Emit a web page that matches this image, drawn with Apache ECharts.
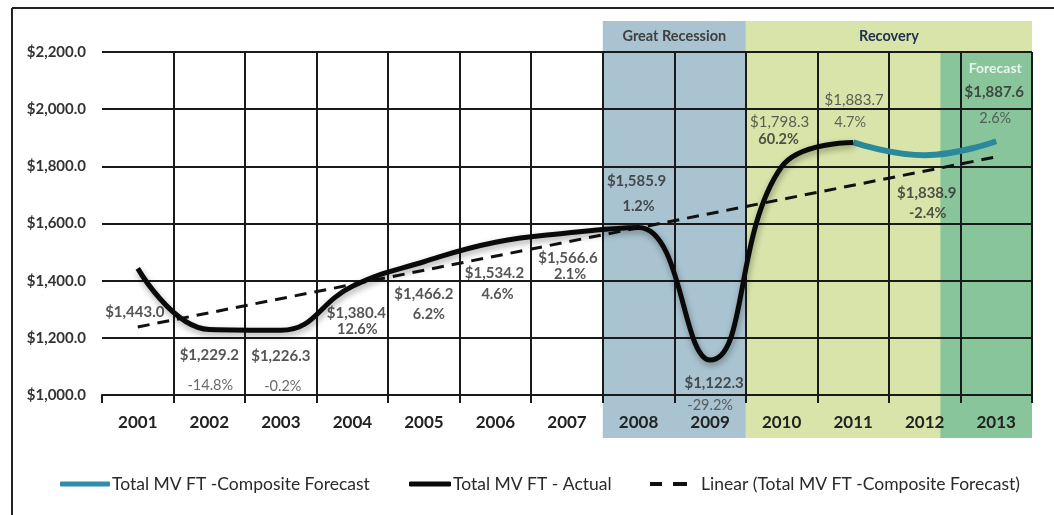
<!DOCTYPE html>
<html><head><meta charset="utf-8">
<script src="https://cdn.jsdelivr.net/npm/echarts@6/dist/echarts.min.js"></script>
<style>html,body{margin:0;padding:0;background:#fff}#c{width:1054px;height:515px}</style>
</head><body><div id="c"></div>
<script>
// ---- data ----
const years = ['2001','2002','2003','2004','2005','2006','2007','2008','2009','2010','2011','2012','2013'];
const actual = [1443.0, 1229.2, 1226.3, 1380.4, 1466.2, 1534.2, 1566.6, 1585.9, 1122.3, 1798.3, 1883.7, null, null];
const forecast = [null, null, null, null, null, null, null, null, null, null, 1883.7, 1838.9, 1887.6];
const trend = [1238, null, null, null, null, null, null, null, null, null, null, null, 1833];
const valueLabels = ['$1,443.0','$1,229.2','$1,226.3','$1,380.4','$1,466.2','$1,534.2','$1,566.6','$1,585.9','$1,122.3','$1,798.3','$1,883.7','$1,838.9','$1,887.6'];
const pctLabels = ['','-14.8%','-0.2%','12.6%','6.2%','4.6%','2.1%','1.2%','-29.2%','60.2%','4.7%','-2.4%','2.6%'];
const yTicks = [1000, 1200, 1400, 1600, 1800, 2000, 2200];
const seriesNames = ['Total MV FT -Composite Forecast', 'Total MV FT - Actual', 'Linear (Total MV FT -Composite Forecast)'];
const bands = [
  {name: 'Great Recession', from: '2008', to: '2009'},
  {name: 'Recovery', from: '2010', to: '2013'}
];
const forecastBandFrom = '2012';
const forecastTag = 'Forecast';

// ---- layout / style (not data) ----
const valueOffsets = [[-3,44],[0,26],[0,26],[4,27],[0,32],[-1,31],[1,25],[-2,-46],[4,23],[-2,-45],[1,-42],[2,38],[-2,-49]];
const pctOffsets = [[0,0],[1,56],[2,56],[5,43],[5,53],[2,52],[3,41],[0,-21],[0,45],[-3,-27],[-3,-20],[3,58],[-1,-23]];
const valueBold = [1,1,1,1,1,1,1,1,1,0,0,1,1];
const pctBold = [0,0,0,1,1,1,1,1,0,1,0,1,0];
const FONT = 'Lato, "Open Sans", sans-serif';

const pointVals = years.map((y, i) => actual[i] != null ? actual[i] : forecast[i]);

const chart = echarts.init(document.getElementById('c'), null, {renderer: 'canvas'});

const legendBase = {
  top: 470, itemGap: 4,
  textStyle: {fontFamily: FONT, fontSize: 17.5, color: '#2a2a2a', padding: [0,0,0,-3]}
};

const option = {
  backgroundColor: '#fff',
  animation: false,
  grid: {left: 102, right: 22, top: 52, bottom: 120, containLabel: false},
  legend: [
    Object.assign({}, legendBase, {data: [{name: seriesNames[0], icon: 'roundRect', itemStyle: {color: '#2f8cab'}}], left: 55, itemWidth: 50, itemHeight: 5}),
    Object.assign({}, legendBase, {data: [{name: seriesNames[1], icon: 'roundRect', itemStyle: {color: '#0a0a0a'}}], left: 404, itemWidth: 42, itemHeight: 5}),
    Object.assign({}, legendBase, {data: [{name: seriesNames[2], icon: 'path://M0,0h12v4h-12z M23,0h14v4h-14z', itemStyle: {color: '#111'}}], left: 645, itemWidth: 37, itemHeight: 4, textStyle: Object.assign({}, legendBase.textStyle, {padding: [0,0,0,9]})})
  ],
  xAxis: {
    type: 'category', data: years, boundaryGap: true, z: 2,
    axisLine: {lineStyle: {color: '#1a1a1a', width: 2}},
    axisTick: {show: true, length: 8, lineStyle: {color: '#1a1a1a', width: 2}},
    splitLine: {show: true, showMinLine: false, lineStyle: {color: '#1a1a1a', width: 2}},
    axisLabel: {fontFamily: FONT, fontWeight: 'bold', fontSize: 17, color: '#222', margin: 19}
  },
  yAxis: {
    type: 'value', min: yTicks[0], max: yTicks[yTicks.length - 1], interval: yTicks[1] - yTicks[0], z: 2,
    axisLine: {show: false}, axisTick: {show: false},
    splitLine: {lineStyle: {color: '#1a1a1a', width: 2}},
    axisLabel: {
      fontFamily: FONT, fontWeight: 'bold', fontSize: 15, color: '#333', margin: 16,
      formatter: v => '$' + v.toLocaleString('en-US', {minimumFractionDigits: 1, maximumFractionDigits: 1})
    }
  },
  series: [
    {
      name: seriesNames[2], type: 'line', data: trend, connectNulls: true, z: 3,
      symbol: 'none', lineStyle: {color: '#111', width: 3, type: [12, 8]}
    },
    {
      name: seriesNames[0], type: 'line', data: forecast, smooth: 0.45, z: 4,
      symbol: 'none', lineStyle: {color: '#2a8a9c', width: 6}, itemStyle: {color: '#2f8cab'}
    },
    {
      name: seriesNames[1], type: 'line', data: actual, smooth: 0.45, z: 5,
      symbol: 'none', lineStyle: {color: '#0a0a0a', width: 5, shadowColor: 'rgba(0,0,0,0.35)', shadowBlur: 6, shadowOffsetY: 3, shadowOffsetX: 1},
      itemStyle: {color: '#0a0a0a'}
    },
    {
      name: 'valueLabels', type: 'scatter', z: 6, symbolSize: 0, silent: true,
      data: years.map((y, i) => ({
        value: [i, pointVals[i]],
        label: {
          show: true, position: 'inside', offset: valueOffsets[i],
          formatter: valueLabels[i],
          fontFamily: FONT, fontSize: 15,
          fontWeight: valueBold[i] ? 'bold' : 'normal',
          color: valueBold[i] ? '#2b2b2b' : '#3a3a3a'
        }
      }))
    },
    {
      name: 'pctLabels', type: 'scatter', z: 6, symbolSize: 0, silent: true,
      data: years.map((y, i) => ({
        value: [i, pointVals[i]],
        label: {
          show: pctLabels[i] !== '', position: 'inside', offset: pctOffsets[i],
          formatter: pctLabels[i],
          fontFamily: FONT, fontSize: 14.5,
          fontWeight: pctBold[i] ? 'bold' : 'normal',
          color: pctBold[i] ? '#2b2b2b' : '#444'
        }
      }))
    },
    {
      name: 'tag', type: 'scatter', z: 6, symbolSize: 0, silent: true,
      data: [{
        value: [years.length - 1, pointVals[years.length - 1]],
        label: {show: true, position: 'inside', offset: [-1, -73], formatter: forecastTag,
          fontFamily: FONT, fontSize: 14, fontWeight: 'bold', color: '#ffffff'}
      }]
    }
  ]
};
chart.setOption(option);

// ---- background bands placed with the axis scales ----
const xPix = i => chart.convertToPixel({xAxisIndex: 0}, i);
const yPix = v => chart.convertToPixel({yAxisIndex: 0}, v);
const bw = xPix(1) - xPix(0);
const yTop = yPix(yTicks[yTicks.length - 1]);
const yBot = yPix(yTicks[0]);
const headTop = yTop - 31;
const bandBot = yBot + 43;
const bandColors = ['#a9c3d0', '#d8e4a9'];
const headColors = ['#404040', '#1f2f52'];
const els = [];
bands.forEach((b, k) => {
  const x0 = xPix(years.indexOf(b.from)) - bw / 2;
  const x1 = xPix(years.indexOf(b.to)) + bw / 2;
  els.push({type: 'rect', z: -10, silent: true, shape: {x: x0, y: headTop, width: x1 - x0, height: bandBot - headTop}, style: {fill: bandColors[k]}});
  els.push({type: 'text', z: 10, silent: true, x: (x0 + x1) / 2, y: (headTop + yTop) / 2,
    style: {text: b.name, fill: headColors[k], font: 'bold 14.5px ' + FONT, align: 'center', verticalAlign: 'middle'}});
});
{
  const fx0 = xPix(years.indexOf(forecastBandFrom)) + 0.22 * bw;
  const fx1 = xPix(years.length - 1) + bw / 2;
  els.push({type: 'rect', z: -9, silent: true, shape: {x: fx0, y: yTop, width: fx1 - fx0, height: bandBot - yTop}, style: {fill: '#88c59b'}});
}
// outer frame
els.push({type: 'line', z: 10, silent: true, shape: {x1: 12, y1: 8, x2: 1054, y2: 8}, style: {stroke: '#222', lineWidth: 2}});
els.push({type: 'line', z: 10, silent: true, shape: {x1: 12, y1: 8, x2: 12, y2: 515}, style: {stroke: '#222', lineWidth: 2}});
chart.setOption({graphic: {elements: els}});
</script>
</body></html>
